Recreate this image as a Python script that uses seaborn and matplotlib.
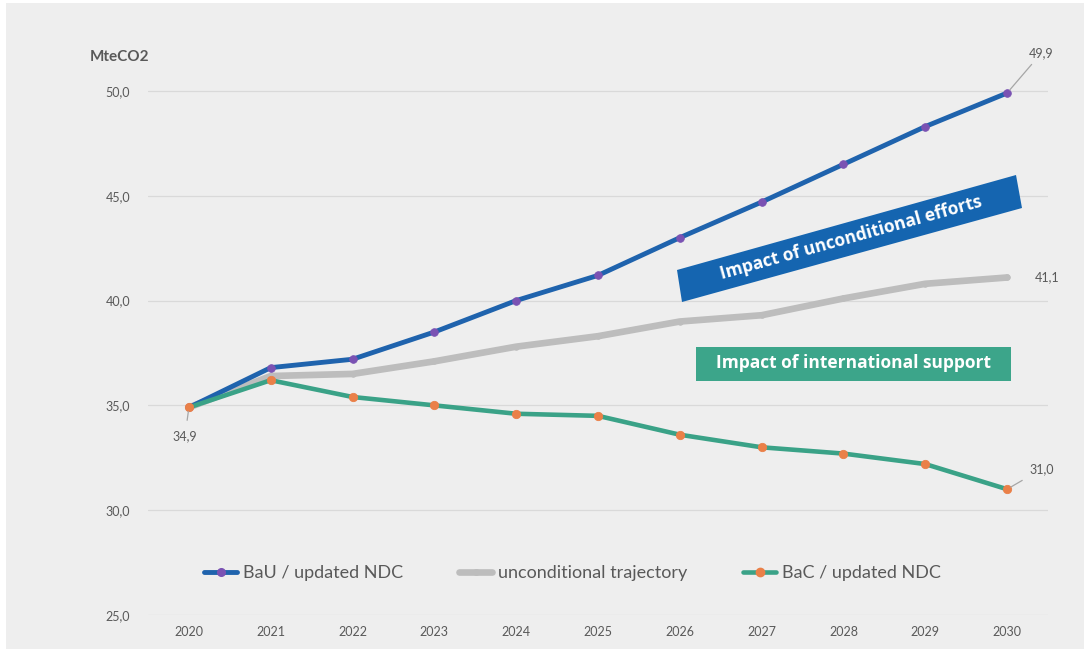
import matplotlib
matplotlib.use("Agg")
import matplotlib.pyplot as plt
from matplotlib.patches import Rectangle, Polygon
from matplotlib.lines import Line2D
import seaborn as sns
import pandas as pd

years = [2020, 2021, 2022, 2023, 2024, 2025, 2026, 2027, 2028, 2029, 2030]
bau_ndc = [34.9, 36.8, 37.2, 38.5, 40.0, 41.2, 43.0, 44.7, 46.5, 48.3, 49.9]
unconditional = [34.9, 36.4, 36.5, 37.1, 37.8, 38.3, 39.0, 39.3, 40.1, 40.8, 41.1]
bac_ndc = [34.9, 36.2, 35.4, 35.0, 34.6, 34.5, 33.6, 33.0, 32.7, 32.2, 31.0]
series_names = ["BaU / updated NDC", "unconditional trajectory", "BaC / updated NDC"]
y_ticks = [25, 30, 35, 40, 45, 50]
unit_label = "MteCO2"
box_unconditional = "Impact of unconditional efforts"
box_international = "Impact of international support"

W, H = 1084, 649
sns.set_theme(style="white")
plt.rcParams["font.family"] = ["Lato", "DejaVu Sans"]
TXT = "#595959"

fig = plt.figure(figsize=(W / 100, H / 100), dpi=100)
fig.patch.set_facecolor("white")
fig.patches.append(Rectangle((6 / W, 0), 1 - 6 / W, 1 - 3 / H, transform=fig.transFigure,
                             facecolor="#eeeeee", edgecolor="none", zorder=-5))

left, right, bottom, top = 148, 1048, 615, 49
ax = fig.add_axes([left / W, 1 - bottom / H, (right - left) / W, (bottom - top) / H])
ax.set_facecolor("none")

df = pd.DataFrame({
    "year": years * 3,
    "value": bau_ndc + unconditional + bac_ndc,
    "series": [series_names[0]] * 11 + [series_names[1]] * 11 + [series_names[2]] * 11,
})

styles = {
    series_names[0]: dict(color="#1f63ad", lw=3.5, mfc="#7a52b3", mec="#7a52b3", ms=5.5),
    series_names[1]: dict(color="#bdbdbd", lw=4.8, mfc="#bdbdbd", mec="#bdbdbd", ms=4),
    series_names[2]: dict(color="#3aa287", lw=3.3, mfc="#ea8048", mec="#ea8048", ms=6),
}
for name in [series_names[1], series_names[0], series_names[2]]:
    st = styles[name]
    sub = df[df["series"] == name]
    sns.lineplot(data=sub, x="year", y="value", ax=ax, color=st["color"], lw=st["lw"],
                 marker="o", markersize=st["ms"], markerfacecolor=st["mfc"],
                 markeredgecolor=st["mec"], markeredgewidth=0.6, legend=False,
                 clip_on=False, zorder=3)

ax.set_xlim(2019.5, 2030.5)
ax.set_ylim(25, 52)
ax.set_yticks(y_ticks)
ax.set_yticklabels([f"{v:.1f}".replace(".", ",") for v in y_ticks])
ax.set_xticks(years)
ax.set_xticklabels([str(y) for y in years])
ax.tick_params(axis="both", length=0, labelsize=9, colors=TXT)
ax.tick_params(axis="y", pad=13)
ax.tick_params(axis="x", pad=8)
ax.yaxis.grid(True, color="#d9d9d9", lw=0.9)
ax.xaxis.grid(False)
for s in ax.spines.values():
    s.set_visible(False)
ax.set_xlabel("")
ax.set_ylabel("")

fig.text(90 / W, 1 - 57 / H, unit_label, fontsize=11, fontweight="bold", color=TXT,
         ha="left", va="center")

# end-point value labels with leader lines
def fmt(v):
    return f"{v:.1f}".replace(".", ",")

lead = dict(color="#a6a6a6", lw=0.9)
ax.annotate(fmt(bau_ndc[-1]), xy=(years[-1], bau_ndc[-1]), xytext=(22, 40),
            textcoords="offset pixels", fontsize=9, color=TXT, ha="left", va="center",
            arrowprops=dict(arrowstyle="-", shrinkA=2, shrinkB=3, **lead))
ax.annotate(fmt(unconditional[-1]), xy=(years[-1], unconditional[-1]), xytext=(28, 0),
            textcoords="offset pixels", fontsize=9, color=TXT, ha="left", va="center")
ax.annotate(fmt(bac_ndc[-1]), xy=(years[-1], bac_ndc[-1]), xytext=(22, 20),
            textcoords="offset pixels", fontsize=9, color=TXT, ha="left", va="center",
            arrowprops=dict(arrowstyle="-", shrinkA=3, shrinkB=3, **lead))
ax.annotate(fmt(bac_ndc[0]), xy=(years[0], bac_ndc[0]), xytext=(-4, -29),
            textcoords="offset pixels", fontsize=9, color=TXT, ha="center", va="center",
            arrowprops=dict(arrowstyle="-", shrinkA=5, shrinkB=3, **lead))

# annotation boxes
def px(x, y):
    return (x / W, 1 - y / H)

blue_box = Polygon([px(677, 270), px(1016, 175), px(1022, 208), px(682, 302)], closed=True,
                   transform=fig.transFigure, facecolor="#1565b0", edgecolor="none", zorder=4)
fig.patches.append(blue_box)
fig.text(*px(851, 238), box_unconditional, rotation=15.6, rotation_mode="anchor",
         fontsize=12.5, fontweight="bold", color="white", ha="center", va="center",
         family=["Open Sans", "DejaVu Sans"], zorder=5)

green_box = Rectangle(px(696, 381), (1011 - 696) / W, (381 - 347) / H, transform=fig.transFigure,
                      facecolor="#3ca58a", edgecolor="none", zorder=4)
fig.patches.append(green_box)
fig.text(*px(853, 363), box_international, fontsize=12.5, fontweight="bold", color="white",
         ha="center", va="center", family=["Open Sans", "DejaVu Sans"], zorder=5)

leg_handles = []
for name in series_names:
    st = styles[name]
    leg_handles.append(Line2D([], [], color=st["color"], lw=st["lw"], marker="o",
                              markersize=st["ms"], markerfacecolor=st["mfc"],
                              markeredgecolor=st["mec"]))
ax.legend(leg_handles, series_names, loc="center", bbox_to_anchor=(0.472, 0.074), ncol=3,
          frameon=False, fontsize=13, handlelength=1.8, handletextpad=0.35,
          columnspacing=3.1, labelcolor=TXT)

fig.savefig("out.png", dpi=100, facecolor=fig.get_facecolor())
